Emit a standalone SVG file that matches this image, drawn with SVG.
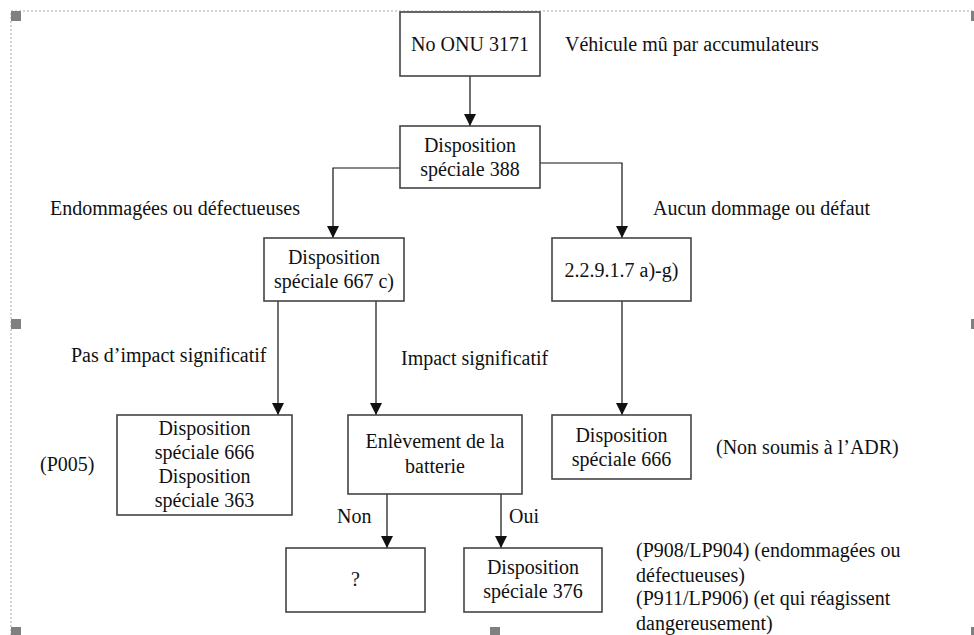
<svg xmlns="http://www.w3.org/2000/svg" width="974" height="635" viewBox="0 0 974 635">
<style>
text{font-family:'Liberation Serif',Tinos,'Times New Roman','DejaVu Serif','Noto Serif',serif;font-size:20px;fill:#111}
.c{text-anchor:middle}
.box{fill:#fff;stroke:#444;stroke-width:1.6}
.ln{fill:none;stroke:#111;stroke-width:1.2}
.h{fill:#808080}
</style>
<defs>
<marker id="a" markerWidth="12" markerHeight="12" refX="12" refY="6" orient="auto" markerUnits="userSpaceOnUse" viewBox="0 0 12 12">
<path d="M0,0 L12,6 L0,12 Z" fill="#111"/>
</marker>
</defs>
<g id="frame">
<rect x="11" y="11" width="964" height="626" fill="none" stroke="#aaa" stroke-width="1" stroke-dasharray="2 2"/>
<rect class="h" x="11" y="11" width="10" height="10"/>
<rect class="h" x="490" y="11" width="10" height="10"/>
<rect class="h" x="971" y="11" width="10" height="10"/>
<rect class="h" x="11" y="319" width="10" height="10"/>
<rect class="h" x="971" y="319" width="10" height="10"/>
<rect class="h" x="11" y="627" width="10" height="10"/>
<rect class="h" x="490" y="627" width="10" height="10"/>
<rect class="h" x="971" y="627" width="10" height="10"/>
</g>
<g id="connectors">
<path class="ln" d="M470,76 V126" marker-end="url(#a)"/>
<path class="ln" d="M400,168 H333 V238" marker-end="url(#a)"/>
<path class="ln" d="M540,163 H622 V238" marker-end="url(#a)"/>
<path class="ln" d="M278,301 V415" marker-end="url(#a)"/>
<path class="ln" d="M376,301 V415" marker-end="url(#a)"/>
<path class="ln" d="M622,301 V415" marker-end="url(#a)"/>
<path class="ln" d="M387,494 V548" marker-end="url(#a)"/>
<path class="ln" d="M501,494 V548" marker-end="url(#a)"/>
</g>
<g id="n1"><rect class="box" x="400" y="12" width="140" height="64"/><text class="c" x="470" y="51">No ONU 3171</text></g>
<g id="n2"><rect class="box" x="400" y="126" width="140" height="62"/><text class="c" x="470" y="152">Disposition</text><text class="c" x="470" y="176">spéciale 388</text></g>
<g id="n3"><rect class="box" x="264" y="238" width="140" height="63"/><text class="c" x="334" y="264">Disposition</text><text class="c" x="334" y="288">spéciale 667 c)</text></g>
<g id="n4"><rect class="box" x="552" y="238" width="139" height="63"/><text class="c" x="621.5" y="277">2.2.9.1.7 a)-g)</text></g>
<g id="n5"><rect class="box" x="117" y="415" width="175" height="100"/><text class="c" x="204.5" y="435">Disposition</text><text class="c" x="204.5" y="459">spéciale 666</text><text class="c" x="204.5" y="483">Disposition</text><text class="c" x="204.5" y="507">spéciale 363</text></g>
<g id="n6"><rect class="box" x="348" y="415" width="174" height="79"/><text class="c" x="435" y="448">Enlèvement de la</text><text class="c" x="435" y="473">batterie</text></g>
<g id="n7"><rect class="box" x="552" y="415" width="139" height="64"/><text class="c" x="621.5" y="442">Disposition</text><text class="c" x="621.5" y="466">spéciale 666</text></g>
<g id="n8"><rect class="box" x="286" y="548" width="139" height="64"/><text class="c" x="355.5" y="586">?</text></g>
<g id="n9"><rect class="box" x="464" y="548" width="138" height="64"/><text class="c" x="533" y="574">Disposition</text><text class="c" x="533" y="598">spéciale 376</text></g>
<g id="labels">
<text x="565" y="51">Véhicule mû par accumulateurs</text>
<text x="50" y="215">Endommagées ou défectueuses</text>
<text x="653" y="215">Aucun dommage ou défaut</text>
<text x="71" y="362">Pas d’impact significatif</text>
<text x="401" y="365">Impact significatif</text>
<text x="40" y="471">(P005)</text>
<text x="716" y="454">(Non soumis à l’ADR)</text>
<text x="337" y="523">Non</text>
<text x="509" y="523">Oui</text>
<text x="636" y="557">(P908/LP904) (endommagées ou</text>
<text x="636" y="582">défectueuses)</text>
<text x="636" y="605">(P911/LP906) (et qui réagissent</text>
<text x="636" y="630">dangereusement)</text>
</g>
</svg>
